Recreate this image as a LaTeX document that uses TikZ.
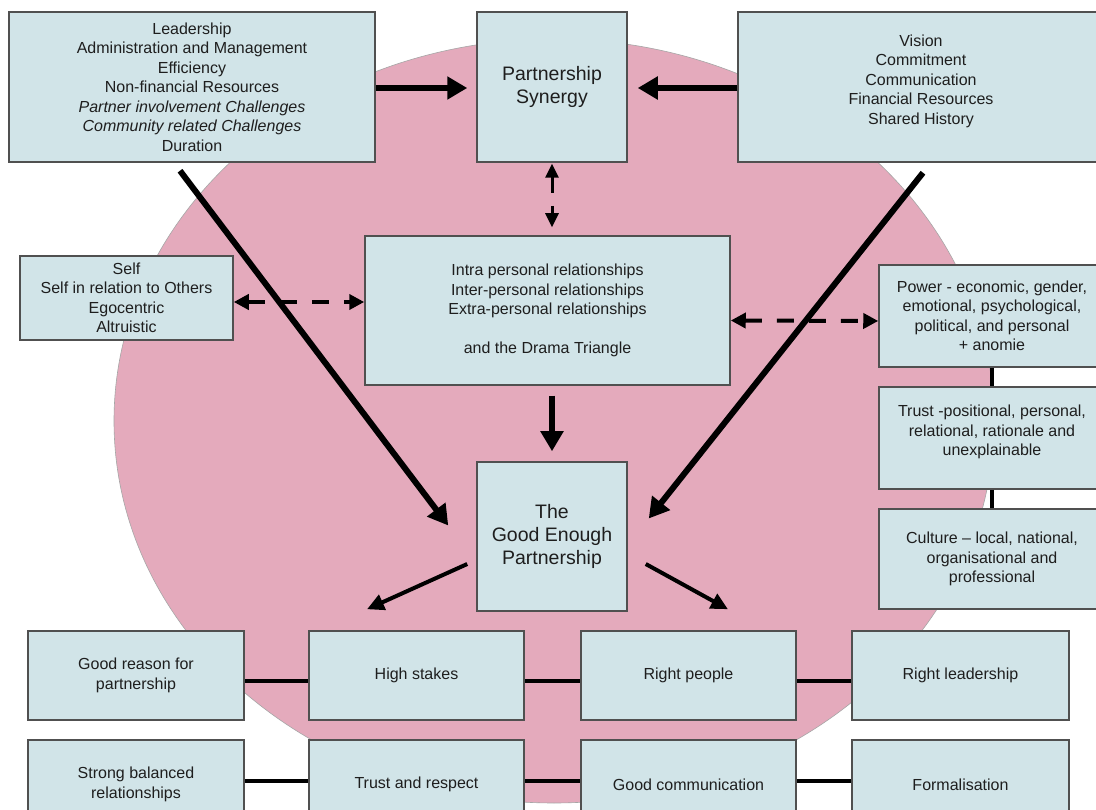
\documentclass[tikz,border=0pt]{standalone}
\usepackage{fontspec}
\setmainfont{Liberation Sans}
\usetikzlibrary{arrows.meta}
\definecolor{boxfill}{RGB}{209,228,232}
\definecolor{pinkfill}{RGB}{228,170,188}
\definecolor{boxline}{RGB}{80,80,80}
\definecolor{txt}{RGB}{30,30,30}
\begin{document}
\begin{tikzpicture}[x=1pt,y=-1pt,
  box/.style={draw=boxline, line width=1.5pt, fill=boxfill, rectangle, inner sep=0pt,
    align=center, text=txt, font=\fontsize{16}{19.5}\selectfont},
  bigbox/.style={box, font=\fontsize{19.5}{23}\selectfont},
  bigarrow/.style={line width=6pt, -{Triangle[length=20pt,width=22pt]}},
  midarrow/.style={line width=4pt, -{Triangle[length=17pt,width=16pt]}},
  dasharrow/.style={line width=4pt, dash pattern=on 17pt off 15pt,
    {Triangle[length=15pt,width=15pt]}-{Triangle[length=15pt,width=15pt]}},
  smalldash/.style={line width=3pt, dash pattern=on 16pt off 13pt,
    {Triangle[length=14pt,width=13pt]}-{Triangle[length=14pt,width=13pt]}},
  link/.style={line width=4pt}
]
\useasboundingbox (0,0) rectangle (1096,810);
\clip (0,0) rectangle (1096,810);
\fill[white] (0,0) rectangle (1096,810);
\filldraw[fill=pinkfill, draw=gray!70, line width=0.6pt] (554,421) ellipse [x radius=440pt, y radius=382pt];

% top row
\node[box, minimum width=366pt, minimum height=150pt] (A) at (192,87)
  {Leadership\\Administration and Management\\Efficiency\\Non-financial Resources\\
   \textit{Partner involvement Challenges}\\\textit{Community related Challenges}\\Duration};
\node[bigbox, minimum width=150pt, minimum height=150pt] (P) at (552,87) {Partnership\\Synergy};
\node[box, minimum width=366pt, minimum height=150pt] (V) at (921,87)
  {Vision\\Commitment\\Communication\\Financial Resources\\Shared History\\[-4pt]\mbox{}};

% middle
\node[box, minimum width=213pt, minimum height=84pt] (S) at (126.5,298)
  {Self\\Self in relation to Others\\Egocentric\\Altruistic};
\node[box, minimum width=365pt, minimum height=149pt] (M) at (547.5,310.5)
  {Intra personal relationships\\Inter-personal relationships\\Extra-personal relationships\\[19.5pt]and the Drama Triangle};
\node[box, minimum width=226pt, minimum height=102pt] (Pw) at (992,316)
  {Power - economic, gender,\\emotional, psychological,\\political, and personal\\+ anomie};
\node[box, minimum width=226pt, minimum height=102pt] (T) at (992,438)
  {Trust -positional, personal,\\relational, rationale and\\unexplainable\\[-4pt]\mbox{}};
\node[box, minimum width=226pt, minimum height=100pt] (C) at (992,559)
  {Culture -- local, national,\\organisational and\\professional};
\node[bigbox, minimum width=150pt, minimum height=149pt] (G) at (552,536.5)
  {The\\Good Enough\\Partnership};

% bottom rows
\node[box, minimum width=216pt, minimum height=89pt] (GR) at (136,675.5) {Good reason for\\partnership};
\node[box, minimum width=215pt, minimum height=89pt] (HS) at (416.5,675.5) {High stakes};
\node[box, minimum width=215pt, minimum height=89pt] (RP) at (688.5,675.5) {Right people};
\node[box, minimum width=217pt, minimum height=89pt] (RL) at (960.5,675.5) {Right leadership};
\node[box, minimum width=216pt, minimum height=89pt] (SB) at (136,784.5) {Strong balanced\\relationships};
\node[box, minimum width=215pt, minimum height=89pt] (TR) at (416.5,784.5) {Trust and respect};
\node[box, minimum width=215pt, minimum height=89pt] (GC) at (688.5,784.5) {Good communication};
\node[box, minimum width=217pt, minimum height=89pt] (FO) at (960.5,784.5) {Formalisation};

% arrows
\draw[bigarrow, shorten >=9pt] ([yshift=-1pt]A.east) -- ([yshift=-1pt]P.west);
\draw[bigarrow, shorten >=10pt] ([yshift=-1pt]V.west) -- ([yshift=-1pt]P.east);
\draw[smalldash, shorten <=1pt, shorten >=8pt] (P.south) -- ([xshift=4.5pt]M.north);
\draw[dasharrow] ([yshift=-4pt]S.east) -- ([yshift=8.5pt]M.west);
\draw[dasharrow] ([yshift=-10pt]M.east) -- ([yshift=-5pt]Pw.west);
\draw[bigarrow, shorten <=10pt, shorten >=10pt] ([xshift=4.5pt]M.south) -- (G.north);
\draw[bigarrow] ([xshift=-12pt,yshift=-8pt]A.south) -- ([xshift=-28pt,yshift=11pt]G.west);
\draw[bigarrow] ([xshift=2pt,yshift=-10pt]V.south) -- ([xshift=21pt,yshift=18pt]G.east);
\draw[midarrow] ([xshift=-9pt,yshift=-27.5pt]G.west) -- ([xshift=-49.5pt,yshift=21pt]HS.north);
\draw[midarrow] ([xshift=18pt,yshift=-27.5pt]G.east) -- ([xshift=39.5pt,yshift=21pt]RP.north);

% links
\draw[link] (Pw.south) -- (T.north);
\draw[link] (T.south) -- (C.north);
\draw[link] ([yshift=-5.5pt]GR.east) -- ([yshift=-5.5pt]HS.west);
\draw[link] ([yshift=-5.5pt]HS.east) -- ([yshift=-5.5pt]RP.west);
\draw[link] ([yshift=-5.5pt]RP.east) -- ([yshift=-5.5pt]RL.west);
\draw[link] ([yshift=3.5pt]SB.east) -- ([yshift=3.5pt]TR.west);
\draw[link] ([yshift=3.5pt]TR.east) -- ([yshift=3.5pt]GC.west);
\draw[link] ([yshift=3.5pt]GC.east) -- ([yshift=3.5pt]FO.west);
\end{tikzpicture}
\end{document}
